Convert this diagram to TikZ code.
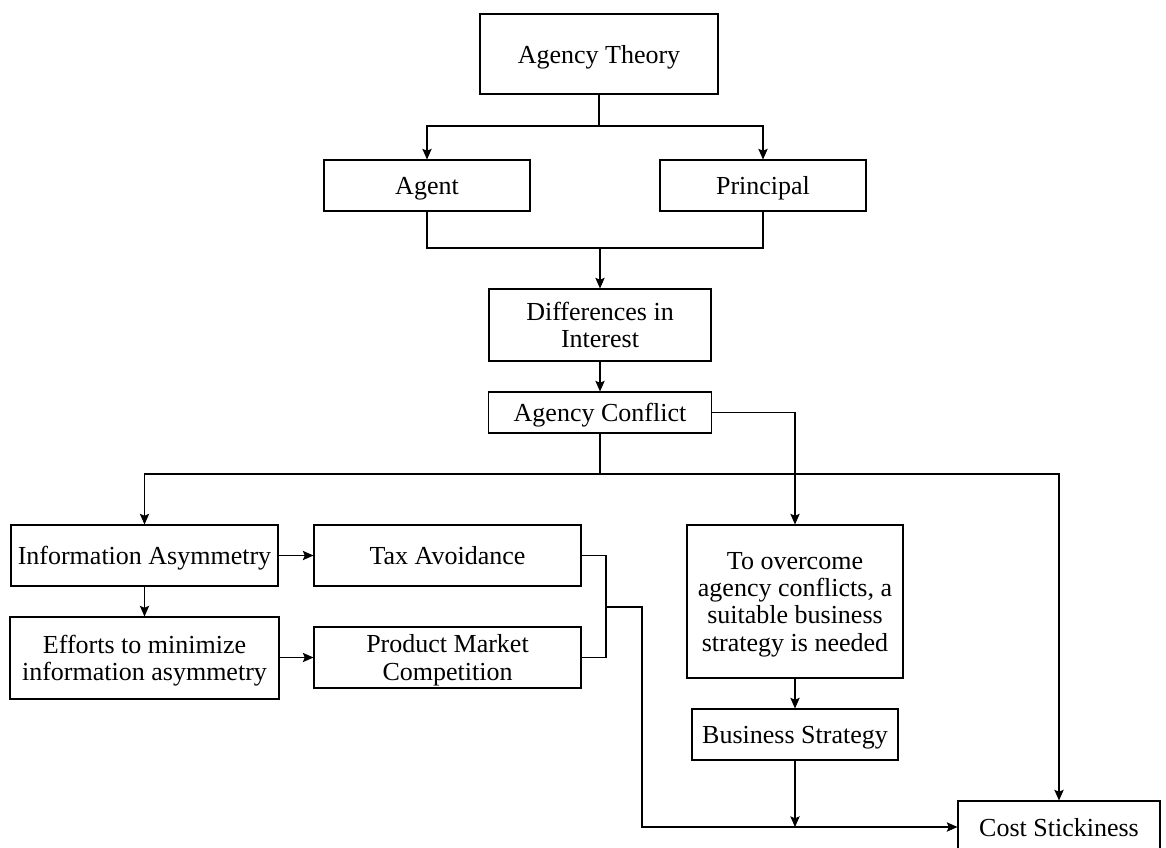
\documentclass[tikz,border=0pt]{standalone}
\usepackage{fontspec}
\setmainfont{Liberation Serif}
\usetikzlibrary{arrows.meta}
\begin{document}
\begin{tikzpicture}[x=0.75pt,y=-0.75pt,
  box/.style={draw, line width=0.8pt, align=center, inner sep=0pt, text depth=0pt,
    font=\fontsize{19.5}{20.5}\selectfont},
  conn/.style={line width=0.8pt},
  arr/.style={conn, -{Stealth[length=8pt,width=7pt,inset=1.5pt]}}]
\useasboundingbox (0,0) rectangle (1166,848);
\node[box, minimum width=178.5pt, minimum height=60pt] (theory) at (599,54) {Agency Theory};
\node[box, minimum width=154.5pt, minimum height=38.25pt] (agent) at (427,185.5) {Agent};
\node[box, minimum width=154.5pt, minimum height=38.25pt] (principal) at (763,185.5) {Principal};
\node[box, minimum width=166.5pt, minimum height=54pt] (diff) at (600,325) {Differences in\\Interest};
\node[box, minimum width=167.25pt, minimum height=30.75pt] (conflict) at (600,412.5) {Agency Conflict};
\node[box, minimum width=200.25pt, minimum height=45.75pt] (info) at (144.5,555.5) {Information Asymmetry};
\node[box, minimum width=200.25pt, minimum height=45.75pt] (tax) at (447.5,555.5) {Tax Avoidance};
\node[box, minimum width=201.75pt, minimum height=61.5pt] (efforts) at (144.5,658) {Efforts to minimize\\information asymmetry};
\node[box, minimum width=200.25pt, minimum height=45.75pt] (pmc) at (447.5,657.5) {Product Market\\Competition};
\node[box, minimum width=162pt, minimum height=114.75pt] (overcome) at (795,601.5) {To overcome\\agency conflicts, a\\suitable business\\strategy is needed};
\node[box, minimum width=154.5pt, minimum height=38.25pt] (business) at (795,734.5) {Business Strategy};
\node[box, minimum width=151.5pt, minimum height=39pt] (cost) at (1059,827) {Cost Stickiness};

\coordinate (j1) at (599,126);
\coordinate (j2) at (600,248);
\coordinate (j3) at (600,474);
\coordinate (j4) at (606,607);
\coordinate (j5) at (642,607);
\coordinate (j6) at (795,827);

\draw[conn] (theory) -- (j1);
\draw[arr] (j1) -| (agent);
\draw[arr] (j1) -| (principal);
\draw[conn] (agent) |- (j2) -| (principal);
\draw[arr] (j2) -- (diff);
\draw[arr] (diff) -- (conflict);
\draw[conn] (conflict) -- (j3);
\draw[arr] (j3) -| (info);
\draw[arr] (j3) -| (cost);
\draw[arr] (conflict) -| (overcome);
\draw[arr] (info) -- (tax);
\draw[arr] (info) -- (efforts);
\draw[arr] (efforts.east |- pmc) -- (pmc);
\draw[conn] (tax) -| (j4);
\draw[conn] (pmc) -| (j4);
\draw[arr] (j4) -- (j5) |- (cost);
\draw[arr] (overcome) -- (business);
\draw[arr] (business) -- (j6);
\end{tikzpicture}
\end{document}
